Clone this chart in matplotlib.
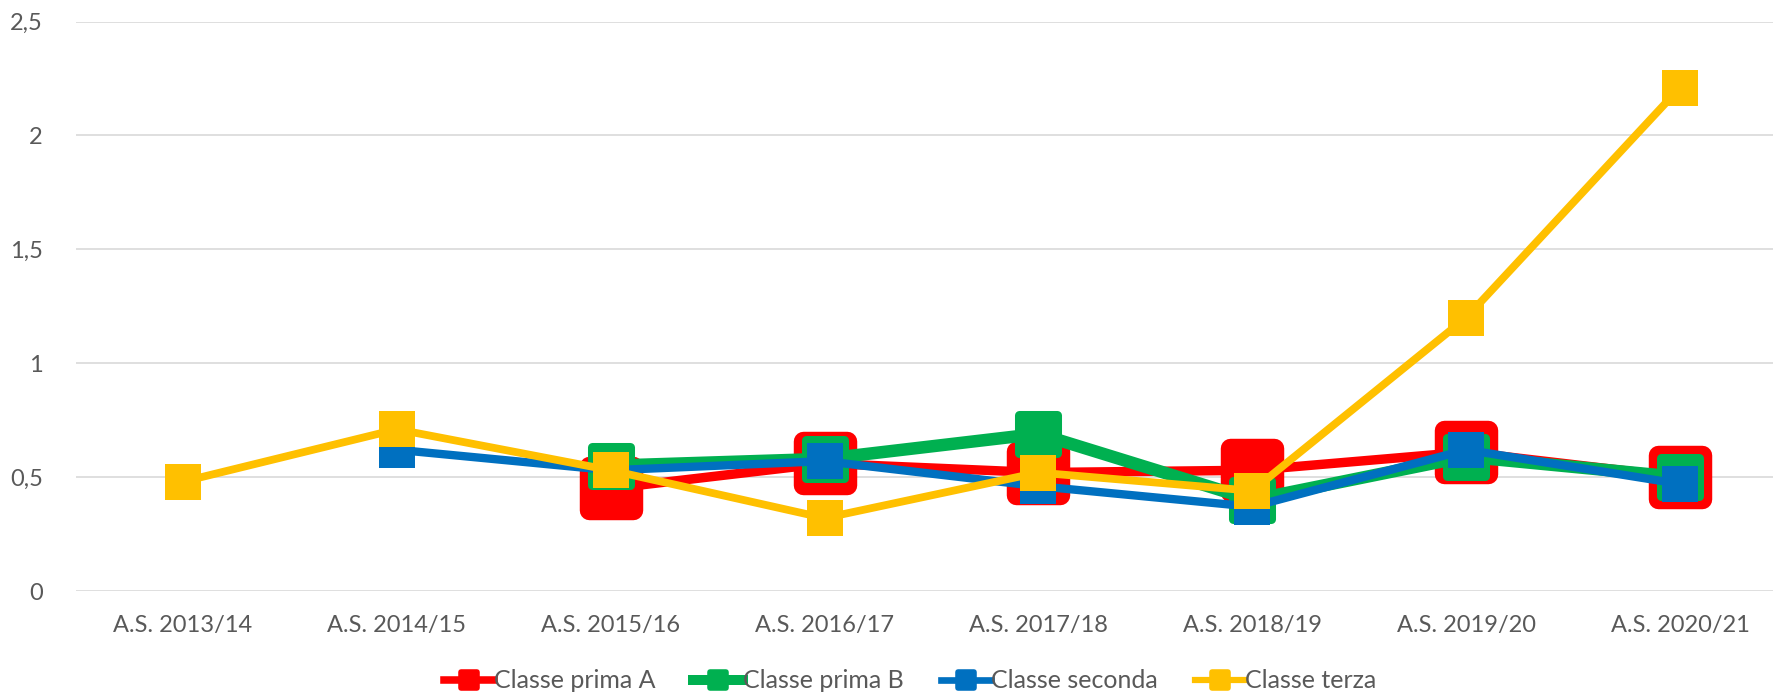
import matplotlib
matplotlib.use("Agg")
import matplotlib.pyplot as plt
from matplotlib.lines import Line2D
from matplotlib.markers import MarkerStyle

categories = ["A.S. 2013/14", "A.S. 2014/15", "A.S. 2015/16", "A.S. 2016/17",
              "A.S. 2017/18", "A.S. 2018/19", "A.S. 2019/20", "A.S. 2020/21"]

# None = no value for that year
prima_a = [None, None, 0.45, 0.56, 0.52, 0.53, 0.61, 0.50]
prima_b = [None, None, 0.55, 0.58, 0.69, 0.40, 0.59, 0.50]
seconda = [None, 0.62, 0.53, 0.57, 0.46, 0.37, 0.62, 0.47]
terza = [0.48, 0.71, 0.53, 0.32, 0.52, 0.44, 1.20, 2.21]

series_names = ["Classe prima A", "Classe prima B", "Classe seconda", "Classe terza"]
y_ticks = [0, 0.5, 1, 1.5, 2, 2.5]
y_tick_labels = ["0", "0,5", "1", "1,5", "2", "2,5"]

plt.rcParams['font.family'] = ['Lato', 'DejaVu Sans']

W, H = 1774, 696
fig = plt.figure(figsize=(W / 100, H / 100), dpi=100)
ax = fig.add_axes([76 / W, 105 / H, (W - 76) / W, (591 - 21.5) / H])

styles = [
    # color, linewidth, markersize, edgewidth, rounded
    ("#FF0000", 6.8, 31, 14, True),
    ("#00B050", 9.0, 28, 6.5, True),
    ("#0070C0", 6.0, 26, 0, False),
    ("#FFC000", 5.6, 26, 0, False),
]
data = [prima_a, prima_b, seconda, terza]

handles = []
for name, vals, (col, lw, ms, mew, rounded) in zip(series_names, data, styles):
    xs = [i for i, v in enumerate(vals) if v is not None]
    ys = [v for v in vals if v is not None]
    mk = MarkerStyle('s', joinstyle='round' if rounded else 'miter')
    ax.plot(xs, ys, color=col, lw=lw, marker=mk, ms=ms, mfc=col, mec=col,
            mew=mew, solid_joinstyle='round', clip_on=False)
    handles.append(Line2D([0], [0], color=col, lw=lw * 0.8,
                          marker=MarkerStyle('s', joinstyle='round'),
                          ms=11, mfc=col, mec=col, mew=4))

ax.set_xlim(-0.5, 7.5 - 13 / 214)
ax.set_ylim(0, 2.5)
ax.set_xticks(range(len(categories)))
ax.set_xticklabels(categories, fontsize=17, color="#595959")
ax.set_yticks(y_ticks)
ax.set_yticklabels(y_tick_labels, fontsize=17, color="#595959")
ax.tick_params(axis='both', length=0)
ax.tick_params(axis='x', pad=17)
ax.tick_params(axis='y', pad=24)
ax.grid(axis='y', color="#d9d9d9", lw=1.2)
ax.set_axisbelow(True)
for s in ax.spines.values():
    s.set_visible(False)

fig.legend(handles=handles, labels=series_names, loc='center',
           bbox_to_anchor=(910 / W, 1 - 681 / H), ncol=4, frameon=False,
           fontsize=18, handlelength=2.0, handletextpad=0.0,
           columnspacing=1.5, labelcolor="#595959")

fig.savefig("out.png", dpi=100)
